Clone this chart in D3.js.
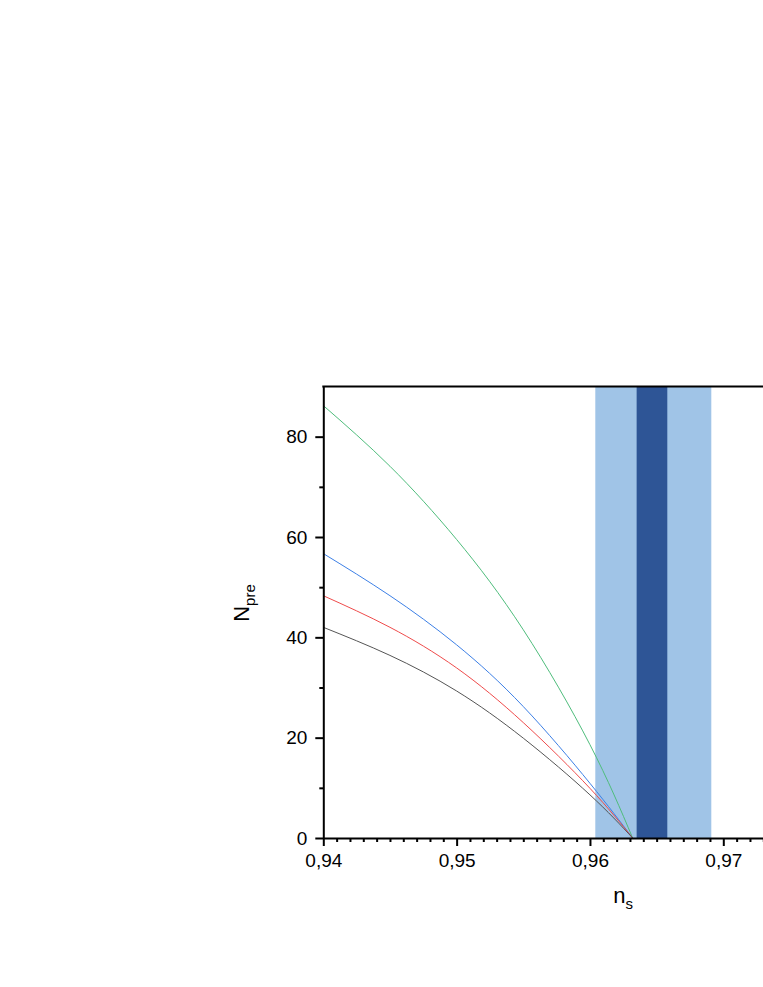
<!DOCTYPE html>
<html>
<head>
<meta charset="utf-8">
<script src="https://cdn.jsdelivr.net/npm/d3@7/dist/d3.min.js"></script>
<style>
  html, body { margin: 0; padding: 0; background: #fff; }
  svg { display: block; }
  text { font-family: "Liberation Sans", Arial, sans-serif; fill: #000; }
</style>
</head>
<body>
<svg id="chart" width="763" height="987"></svg>
<script>
// ---- data ----
const nsGrid   = [0.94, 0.945, 0.95, 0.955, 0.96, 0.9632];
const greenN   = [86.2, 74.1, 59.5, 41.5, 18.6, 0];
const blueN    = [56.7, 48.3, 38.5, 26.2, 10.9, 0];
const redN     = [48.3, 42.0, 33.9, 23.0, 9.9, 0];
const blackN   = [42.0, 36.4, 29.3, 19.9, 8.6, 0];
const seriesColors = ["#4fbd7c", "#3d80e6", "#ef4b4b", "#555555"];
const lightBand = [0.9604, 0.9691];
const darkBand  = [0.9635, 0.9658];
const xMajorTicks = [0.94, 0.95, 0.96, 0.97];
const yMajorTicks = [0, 20, 40, 60, 80];
const yMinorTicks = [10, 30, 50, 70];

// ---- layout ----
const svg = d3.select("#chart");
const plotLeft = 323.3, plotBottom = 838, plotTop = 386.5;
const pxPerUnitX = 13333.3;
const x = d3.scaleLinear().domain([0.94, 0.975]).range([plotLeft, plotLeft + 0.035 * pxPerUnitX]);
const y = d3.scaleLinear().domain([0, 90]).range([plotBottom, plotTop]);

// bands
svg.append("rect")
  .attr("x", x(lightBand[0])).attr("y", y(90))
  .attr("width", x(lightBand[1]) - x(lightBand[0])).attr("height", y(0) - y(90))
  .attr("fill", "#a0c4e7");
svg.append("rect")
  .attr("x", x(darkBand[0])).attr("y", y(90))
  .attr("width", x(darkBand[1]) - x(darkBand[0])).attr("height", y(0) - y(90))
  .attr("fill", "#2e5596");

// curves
const line = d3.line().x(d => x(d[0])).y(d => y(d[1])).curve(d3.curveNatural);
[greenN, blueN, redN, blackN].forEach((vals, i) => {
  svg.append("path")
    .datum(nsGrid.map((n, j) => [n, vals[j]]))
    .attr("d", line)
    .attr("fill", "none")
    .attr("stroke", seriesColors[i])
    .attr("stroke-width", 1);
});

const fmt = v => d3.format(".2f")(v).replace(".", ",");

// x axis minor
const xMinor = d3.range(0, 36).map(i => 0.94 + i * 0.001).filter((v, i) => i % 10 !== 0);
svg.append("g").attr("transform", `translate(0,${plotBottom})`)
  .call(d3.axisBottom(x).tickValues(xMinor).tickSize(4).tickFormat(""))
  .call(g => g.select(".domain").remove())
  .call(g => g.selectAll("line").attr("stroke", "#000").attr("stroke-width", 2));
// x axis major
svg.append("g").attr("transform", `translate(0,${plotBottom})`)
  .call(d3.axisBottom(x).tickValues(xMajorTicks).tickSize(8).tickSizeOuter(0).tickPadding(8).tickFormat(fmt))
  .call(g => g.select(".domain").attr("stroke", "#000").attr("stroke-width", 2))
  .call(g => g.selectAll("line").attr("stroke", "#000").attr("stroke-width", 2))
  .call(g => g.selectAll("text").attr("font-size", 19).attr("font-family", "Liberation Sans, Arial, sans-serif"));

// y axis minor
svg.append("g").attr("transform", `translate(${plotLeft},0)`)
  .call(d3.axisLeft(y).tickValues(yMinorTicks).tickSize(4).tickFormat(""))
  .call(g => g.select(".domain").remove())
  .call(g => g.selectAll("line").attr("stroke", "#000").attr("stroke-width", 2));
// y axis major
svg.append("g").attr("transform", `translate(${plotLeft},0)`)
  .call(d3.axisLeft(y).tickValues(yMajorTicks).tickSize(8).tickSizeOuter(0).tickPadding(8).tickFormat(d3.format("d")))
  .call(g => g.select(".domain").attr("stroke", "#000").attr("stroke-width", 2))
  .call(g => g.selectAll("line").attr("stroke", "#000").attr("stroke-width", 2))
  .call(g => g.selectAll("text").attr("font-size", 19).attr("font-family", "Liberation Sans, Arial, sans-serif"));

// top frame line
svg.append("line")
  .attr("x1", plotLeft - 1).attr("x2", x(0.975)).attr("y1", y(90)).attr("y2", y(90))
  .attr("stroke", "#000").attr("stroke-width", 2);

// axis titles
const xt = svg.append("text").attr("x", 623).attr("y", 903).attr("text-anchor", "middle").attr("font-size", 22);
xt.append("tspan").text("n");
xt.append("tspan").attr("font-size", 15).attr("dy", 6).text("s");

const yt = svg.append("text").attr("transform", "translate(249,603) rotate(-90)").attr("text-anchor", "middle").attr("font-size", 22);
yt.append("tspan").text("N");
yt.append("tspan").attr("font-size", 15).attr("dy", 6).text("pre");
</script>
</body>
</html>
